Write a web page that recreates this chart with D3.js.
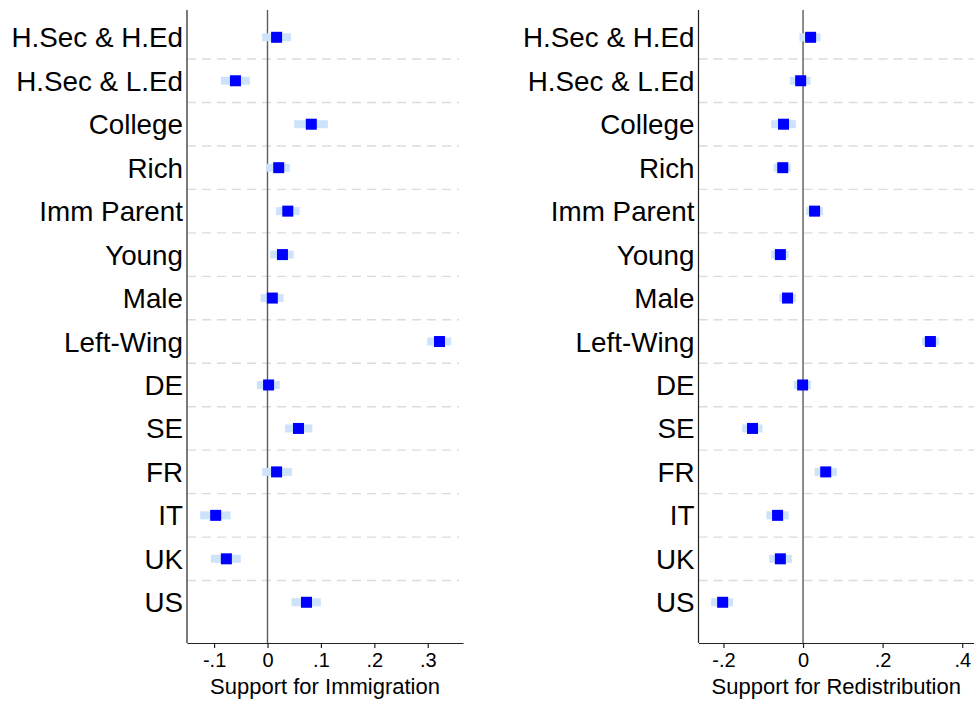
<!DOCTYPE html>
<html>
<head>
<meta charset="utf-8">
<script src="https://cdn.jsdelivr.net/npm/d3@7"></script>
<style>
  html, body { margin: 0; padding: 0; background: #fff; }
  svg { display: block; font-family: "Liberation Sans", Arial, Helvetica, sans-serif; }
</style>
</head>
<body>
<svg id="chart" width="974" height="702"></svg>
<script>
// Coefficient estimates with confidence intervals, one row per covariate
const categories = ["H.Sec & H.Ed", "H.Sec & L.Ed", "College", "Rich", "Imm Parent", "Young", "Male",
                    "Left-Wing", "DE", "SE", "FR", "IT", "UK", "US"];

const immigrationEst = [0.017, -0.060, 0.082, 0.021, 0.038, 0.028, 0.009, 0.322, 0.002, 0.058, 0.017, -0.097, -0.077, 0.073];
const immigrationLo  = [-0.010, -0.087, 0.050, -0.002, 0.016, 0.005, -0.013, 0.299, -0.020, 0.033, -0.010, -0.126, -0.106, 0.045];
const immigrationHi  = [0.044, -0.033, 0.113, 0.042, 0.060, 0.049, 0.030, 0.344, 0.023, 0.084, 0.046, -0.069, -0.050, 0.100];

const redistributionEst = [0.019, -0.006, -0.049, -0.051, 0.029, -0.057, -0.039, 0.320, -0.001, -0.127, 0.057, -0.064, -0.057, -0.202];
const redistributionLo  = [-0.009, -0.033, -0.080, -0.074, 0.008, -0.080, -0.060, 0.299, -0.023, -0.153, 0.029, -0.092, -0.085, -0.231];
const redistributionHi  = [0.044, 0.019, -0.018, -0.031, 0.050, -0.036, -0.018, 0.342, 0.020, -0.102, 0.085, -0.036, -0.028, -0.176];

const immigrationTicks = [-0.1, 0, 0.1, 0.2, 0.3];
const immigrationTickLabels = ["-.1", "0", ".1", ".2", ".3"];
const redistributionTicks = [-0.2, 0, 0.2, 0.4];
const redistributionTickLabels = ["-.2", "0", ".2", ".4"];

const svg = d3.select("#chart");

const plotTop = 10, plotBottom = 643;
// Row index -> vertical position (rows evenly spaced, first row at the top)
const y = d3.scaleLinear().domain([-0.628, 13.937]).range([plotTop, plotBottom]);

function drawPanel(opts) {
  const g = svg.append("g");
  const x = d3.scaleLinear().domain(opts.domain).range(opts.range);
  const rows = categories.map((c, i) => ({
    cat: c, i, est: opts.est[i], lo: opts.lo[i], hi: opts.hi[i]
  }));

  // dashed separators between rows
  g.selectAll("line.sep")
    .data(d3.range(categories.length - 1))
    .join("line")
    .attr("class", "sep")
    .attr("x1", opts.range[0]).attr("x2", opts.gridEnd)
    .attr("y1", d => y(d + 0.5)).attr("y2", d => y(d + 0.5))
    .attr("stroke", "#dcdcdc")
    .attr("stroke-width", 1.4)
    .attr("stroke-dasharray", "9,6");

  // reference line at zero
  g.append("line")
    .attr("x1", x(0)).attr("x2", x(0))
    .attr("y1", plotTop).attr("y2", plotBottom)
    .attr("stroke", "#5c5c5c")
    .attr("stroke-width", 1.4);

  // y axis line
  g.append("line")
    .attr("x1", opts.range[0]).attr("x2", opts.range[0])
    .attr("y1", plotTop).attr("y2", plotBottom)
    .attr("stroke", "#222")
    .attr("stroke-width", 1.2);

  // category labels
  g.selectAll("text.cat")
    .data(rows)
    .join("text")
    .attr("class", "cat")
    .attr("x", opts.range[0] - 4)
    .attr("y", d => y(d.i))
    .attr("dy", "0.36em")
    .attr("text-anchor", "end")
    .attr("font-size", 27.8)
    .attr("fill", "#000")
    .text(d => d.cat);

  // confidence intervals
  g.selectAll("rect.ci")
    .data(rows)
    .join("rect")
    .attr("class", "ci")
    .attr("x", d => x(d.lo))
    .attr("width", d => x(d.hi) - x(d.lo))
    .attr("y", d => y(d.i) - 4)
    .attr("height", 8)
    .attr("fill", "#cde3fb");

  // point estimates
  g.selectAll("rect.est")
    .data(rows)
    .join("rect")
    .attr("class", "est")
    .attr("x", d => x(d.est) - 5.5)
    .attr("y", d => y(d.i) - 5.5)
    .attr("width", 11).attr("height", 11)
    .attr("fill", "#0000ff");

  // x axis
  const axis = d3.axisBottom(x)
    .tickValues(opts.ticks)
    .tickFormat((d, i) => opts.tickLabels[i])
    .tickSizeInner(5)
    .tickSizeOuter(0)
    .tickPadding(5);
  const ax = g.append("g")
    .attr("transform", `translate(0,${plotBottom})`)
    .call(axis);
  ax.select(".domain").attr("stroke", "#222").attr("stroke-width", 1.2);
  ax.selectAll(".tick line").attr("stroke", "#222").attr("stroke-width", 1.2);
  ax.selectAll(".tick text")
    .attr("font-size", 20)
    .attr("fill", "#000")
    .attr("font-family", "'Liberation Sans', Arial, Helvetica, sans-serif");

  // axis title
  g.append("text")
    .attr("x", (opts.range[0] + opts.range[1]) / 2)
    .attr("y", 694)
    .attr("text-anchor", "middle")
    .attr("font-size", 22)
    .attr("fill", "#000")
    .text(opts.title);
}

drawPanel({
  domain: [-0.1507, 0.366], range: [187, 463], gridEnd: 459,
  est: immigrationEst, lo: immigrationLo, hi: immigrationHi,
  ticks: immigrationTicks, tickLabels: immigrationTickLabels,
  title: "Support for Immigration"
});

drawPanel({
  domain: [-0.2627, 0.4296], range: [698.5, 974], gridEnd: 974,
  est: redistributionEst, lo: redistributionLo, hi: redistributionHi,
  ticks: redistributionTicks, tickLabels: redistributionTickLabels,
  title: "Support for Redistribution"
});
</script>
</body>
</html>
